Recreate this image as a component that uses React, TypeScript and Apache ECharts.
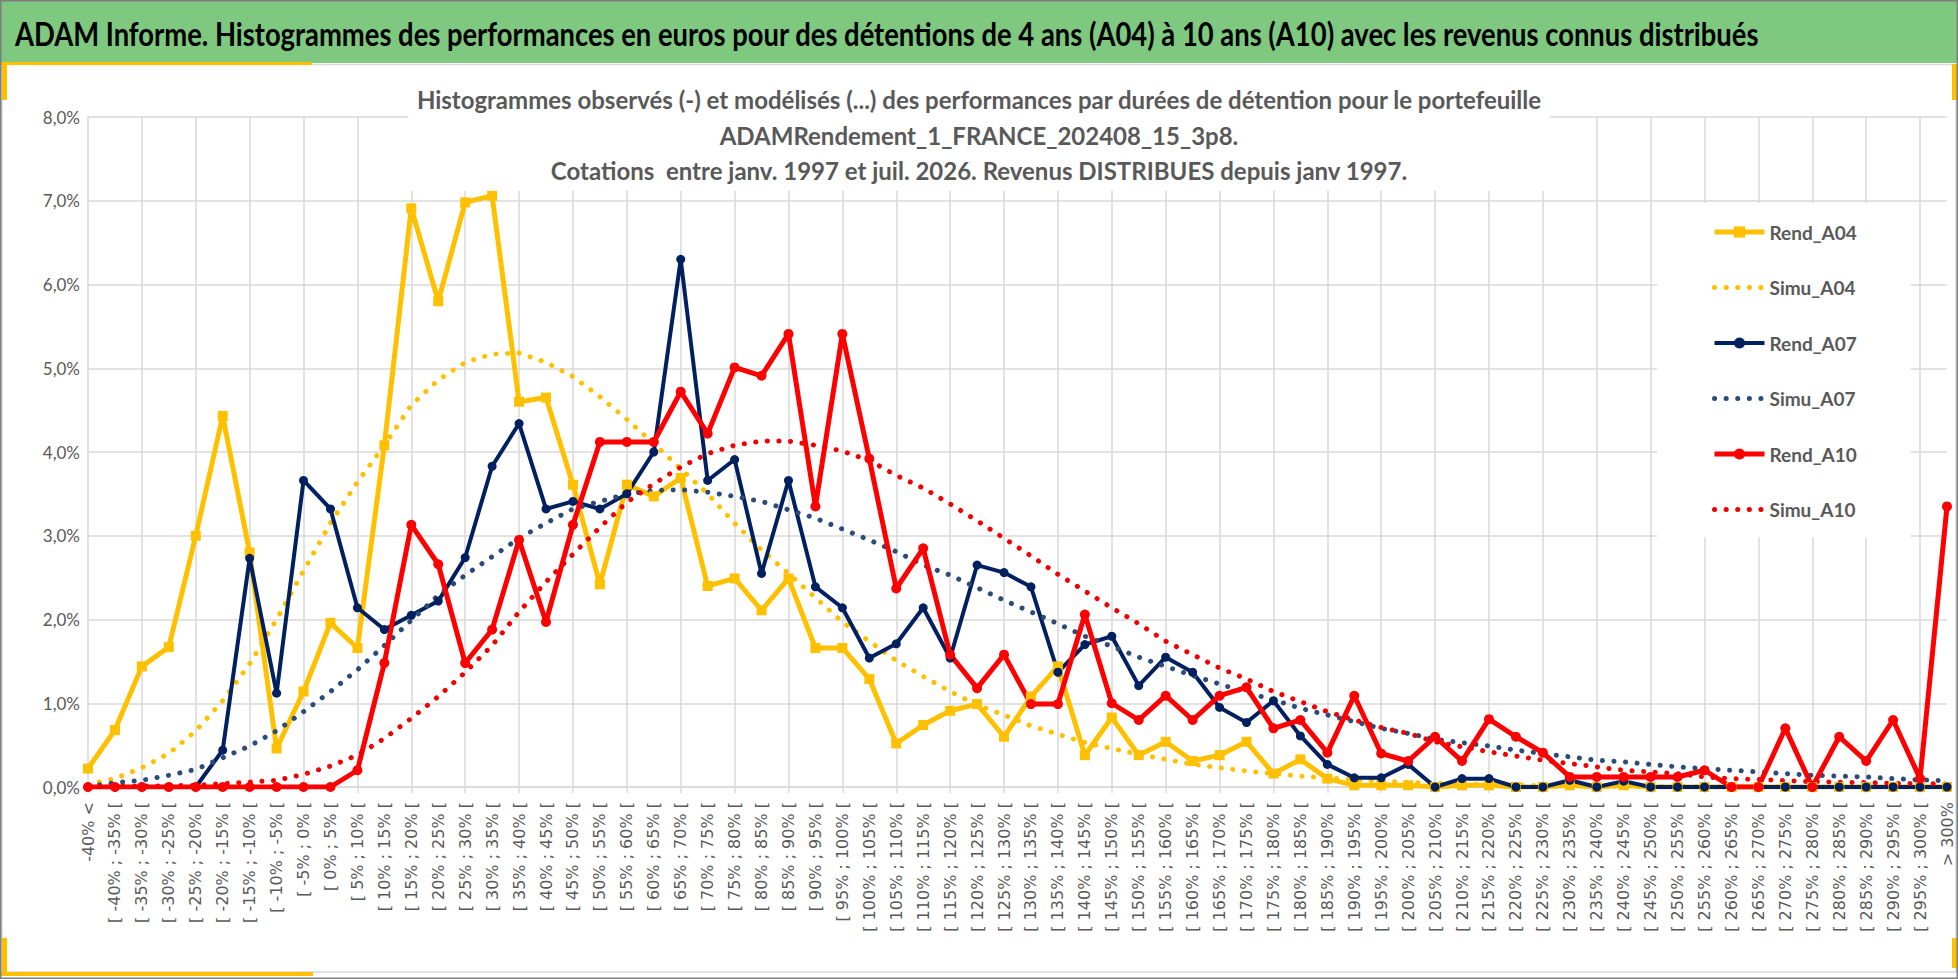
import { useEffect, useRef } from 'react';
import * as echarts from 'echarts';

// Classes de performance (axe des abscisses)
const categories = [
  '-40% <',
  '[ -40% ; -35% [', '[ -35% ; -30% [', '[ -30% ; -25% [', '[ -25% ; -20% [', '[ -20% ; -15% [',
  '[ -15% ; -10% [', '[ -10% ; -5% [', '[ -5% ; 0% [', '[ 0% ; 5% [', '[ 5% ; 10% [',
  '[ 10% ; 15% [', '[ 15% ; 20% [', '[ 20% ; 25% [', '[ 25% ; 30% [', '[ 30% ; 35% [',
  '[ 35% ; 40% [', '[ 40% ; 45% [', '[ 45% ; 50% [', '[ 50% ; 55% [', '[ 55% ; 60% [',
  '[ 60% ; 65% [', '[ 65% ; 70% [', '[ 70% ; 75% [', '[ 75% ; 80% [', '[ 80% ; 85% [',
  '[ 85% ; 90% [', '[ 90% ; 95% [', '[ 95% ; 100% [', '[ 100% ; 105% [', '[ 105% ; 110% [',
  '[ 110% ; 115% [', '[ 115% ; 120% [', '[ 120% ; 125% [', '[ 125% ; 130% [', '[ 130% ; 135% [',
  '[ 135% ; 140% [', '[ 140% ; 145% [', '[ 145% ; 150% [', '[ 150% ; 155% [', '[ 155% ; 160% [',
  '[ 160% ; 165% [', '[ 165% ; 170% [', '[ 170% ; 175% [', '[ 175% ; 180% [', '[ 180% ; 185% [',
  '[ 185% ; 190% [', '[ 190% ; 195% [', '[ 195% ; 200% [', '[ 200% ; 205% [', '[ 205% ; 210% [',
  '[ 210% ; 215% [', '[ 215% ; 220% [', '[ 220% ; 225% [', '[ 225% ; 230% [', '[ 230% ; 235% [',
  '[ 235% ; 240% [', '[ 240% ; 245% [', '[ 245% ; 250% [', '[ 250% ; 255% [', '[ 255% ; 260% [',
  '[ 260% ; 265% [', '[ 265% ; 270% [', '[ 270% ; 275% [', '[ 275% ; 280% [', '[ 280% ; 285% [',
  '[ 285% ; 290% [', '[ 290% ; 295% [', '[ 295% ; 300% [',
  '> 300%',
];

// Histogrammes observés (en %)
const rendA04 = [
  0.22, 0.68, 1.44, 1.67, 3.0, 4.43, 2.8, 0.46, 1.14, 1.96,
  1.66, 4.08, 6.91, 5.8, 6.98, 7.06, 4.6, 4.65, 3.61, 2.42,
  3.61, 3.47, 3.69, 2.4, 2.49, 2.11, 2.49, 1.66, 1.66, 1.29,
  0.52, 0.74, 0.91, 0.99, 0.6, 1.08, 1.44, 0.38, 0.83, 0.38,
  0.54, 0.31, 0.38, 0.54, 0.16, 0.33, 0.1, 0.02, 0.02, 0.02,
  0, 0.02, 0.02, 0, 0, 0.02, 0, 0.02, 0, 0,
  0, 0, 0, 0, 0, 0, 0, 0, 0, 0,
];
const rendA07 = [
  0, 0, 0, 0, 0, 0.44, 2.73, 1.12, 3.66, 3.32,
  2.14, 1.88, 2.05, 2.22, 2.74, 3.83, 4.34, 3.32, 3.41, 3.32,
  3.5, 4.0, 6.3, 3.66, 3.91, 2.55, 3.66, 2.39, 2.14, 1.54,
  1.71, 2.14, 1.54, 2.65, 2.56, 2.39, 1.37, 1.7, 1.8, 1.21,
  1.55, 1.37, 0.95, 0.77, 1.03, 0.61, 0.27, 0.11, 0.11, 0.27,
  0, 0.1, 0.1, 0, 0, 0.08, 0, 0.07, 0, 0,
  0, 0, 0, 0, 0, 0, 0, 0, 0, 0,
];
const rendA10 = [
  0, 0, 0, 0, 0, 0, 0, 0, 0, 0,
  0.2, 1.48, 3.13, 2.66, 1.48, 1.88, 2.95, 1.97, 3.13, 4.12,
  4.12, 4.12, 4.72, 4.22, 5.01, 4.91, 5.41, 3.35, 5.41, 3.92,
  2.37, 2.85, 1.58, 1.18, 1.58, 0.99, 0.99, 2.06, 1.0, 0.8,
  1.09, 0.8, 1.09, 1.19, 0.7, 0.8, 0.41, 1.09, 0.4, 0.31,
  0.6, 0.31, 0.81, 0.6, 0.41, 0.12, 0.12, 0.12, 0.12, 0.12,
  0.2, 0, 0, 0.7, 0, 0.6, 0.31, 0.8, 0.1, 3.35,
];

// Histogrammes modélisés (en %)
const simuA04 = [
  0.03, 0.1, 0.23, 0.4, 0.67, 1.03, 1.47, 2.0, 2.58, 3.15,
  3.64, 4.08, 4.56, 4.86, 5.07, 5.17, 5.18, 5.07, 4.9, 4.66,
  4.39, 4.1, 3.8, 3.5, 3.15, 2.83, 2.55, 2.26, 1.97, 1.74,
  1.51, 1.32, 1.14, 0.98, 0.86, 0.73, 0.63, 0.53, 0.46, 0.39,
  0.33, 0.27, 0.23, 0.19, 0.16, 0.13, 0.11, 0.09, 0.07, 0.055,
  0.045, 0.035, 0.028, 0.022, 0.017, 0.013, 0.01, 0.008, 0.006, 0.005,
  0.004, 0.003, 0.002, 0.002, 0.001, 0.001, 0.001, 0.001, 0.001, 0,
];
const simuA07 = [
  0.01, 0.05, 0.08, 0.14, 0.21, 0.35, 0.49, 0.67, 0.9, 1.14,
  1.4, 1.69, 1.99, 2.29, 2.53, 2.75, 2.97, 3.15, 3.32, 3.41,
  3.5, 3.54, 3.55, 3.52, 3.47, 3.41, 3.31, 3.21, 3.08, 2.95,
  2.81, 2.65, 2.53, 2.38, 2.23, 2.09, 1.95, 1.8, 1.68, 1.55,
  1.44, 1.33, 1.23, 1.13, 1.04, 0.94, 0.86, 0.78, 0.7, 0.64,
  0.57, 0.53, 0.49, 0.44, 0.4, 0.36, 0.32, 0.3, 0.27, 0.24,
  0.22, 0.2, 0.18, 0.16, 0.14, 0.13, 0.12, 0.1, 0.085, 0.075,
];
const simuA10 = [
  0.005, 0.01, 0.01, 0.015, 0.02, 0.04, 0.06, 0.08, 0.15, 0.25,
  0.38, 0.58, 0.82, 1.08, 1.37, 1.69, 2.09, 2.45, 2.78, 3.1,
  3.4, 3.62, 3.82, 3.98, 4.08, 4.13, 4.13, 4.08, 4.01, 3.9,
  3.72, 3.57, 3.38, 3.18, 2.97, 2.76, 2.54, 2.34, 2.14, 1.95,
  1.74, 1.58, 1.42, 1.29, 1.14, 1.02, 0.9, 0.8, 0.71, 0.64,
  0.54, 0.48, 0.42, 0.37, 0.32, 0.28, 0.24, 0.2, 0.18, 0.16,
  0.12, 0.1, 0.09, 0.076, 0.064, 0.056, 0.052, 0.044, 0.04, 0.036,
];

const headerText =
  'ADAM Informe. Histogrammes des performances en euros pour des détentions de 4 ans (A04) à 10 ans (A10) avec les revenus connus distribués';
const titleLines = [
  'Histogrammes observés (-) et modélisés (...) des performances par durées de détention pour le portefeuille',
  'ADAMRendement_1_FRANCE_202408_15_3p8.',
  'Cotations  entre janv. 1997 et juil. 2026. Revenus DISTRIBUES depuis janv 1997.',
];

const FONT = "Lato, 'Open Sans', sans-serif";
const GRAY = '#595959';
const GRID = '#d9d9d9';
const GOLD = '#ffc000';

export default function App() {
  const chartRef = useRef<HTMLDivElement>(null);

  useEffect(() => {
    if (!chartRef.current) return;
    const chart = echarts.init(chartRef.current, null, { renderer: 'svg' });

    const rend = (name: string, data: number[], color: string, symbol: string, width: number, size: number) => ({
      name,
      type: 'line',
      data,
      symbol,
      symbolSize: size,
      showAllSymbol: true,
      lineStyle: { color, width },
      itemStyle: { color },
    });
    const simu = (name: string, data: number[], color: string) => ({
      name,
      type: 'line',
      data,
      symbol: 'none',
      lineStyle: { color, width: 5, type: [0.1, 11.5], cap: 'round' },
      itemStyle: { color },
    });

    const evenOnly = (index: number) => index % 2 === 0;
    // pas de marqueur dans la légende pour les courbes modélisées
    const noMarker = { opacity: 0 };

    const option: any = {
      animation: false,
      backgroundColor: '#fff',
      title: {
        text: titleLines.join('\n'),
        left: 'center',
        top: 82,
        padding: [0, 8, 2, 8],
        backgroundColor: '#fff',
        textStyle: {
          fontFamily: FONT,
          fontSize: 24,
          fontWeight: 'bold',
          color: GRAY,
          lineHeight: 35.5,
        },
      },
      legend: {
        orient: 'vertical',
        left: 1657,
        top: 203,
        padding: [19, 54, 18, 55],
        backgroundColor: '#fff',
        itemWidth: 50,
        itemHeight: 14,
        itemGap: 35.5,
        selectedMode: false,
        lineStyle: { width: 'inherit' },
        textStyle: { fontFamily: FONT, fontSize: 19, fontWeight: 'bold', color: GRAY, lineHeight: 20 },
        data: [
          { name: 'Rend_A04' },
          { name: 'Simu_A04', itemStyle: noMarker },
          { name: 'Rend_A07' },
          { name: 'Simu_A07', itemStyle: noMarker },
          { name: 'Rend_A10' },
          { name: 'Simu_A10', itemStyle: noMarker },
        ],
      },
      grid: { left: 88, right: 11, top: 117, bottom: 192, containLabel: false },
      xAxis: {
        type: 'category',
        boundaryGap: false,
        data: categories,
        axisLine: { lineStyle: { color: GRID, width: 1.5 } },
        axisTick: { show: true, interval: evenOnly, length: 6, lineStyle: { color: GRID, width: 1.5 } },
        axisLabel: {
          interval: 0,
          rotate: 90,
          margin: 15,
          fontFamily: "'DejaVu Sans', sans-serif",
          fontSize: 16,
          color: GRAY,
        },
        splitLine: { show: true, interval: evenOnly, lineStyle: { color: GRID, width: 1.5 } },
      },
      yAxis: {
        type: 'value',
        min: 0,
        max: 8,
        interval: 1,
        axisLine: { show: false },
        axisTick: { show: false },
        axisLabel: {
          margin: 8,
          fontFamily: FONT,
          fontSize: 17,
          color: GRAY,
          formatter: (v: number) => v.toFixed(1).replace('.', ',') + '%',
        },
        splitLine: { lineStyle: { color: GRID, width: 1.5 } },
      },
      series: [
        rend('Rend_A04', rendA04, GOLD, 'rect', 5, 10),
        simu('Simu_A04', simuA04, GOLD),
        rend('Rend_A07', rendA07, '#002060', 'circle', 4, 9),
        simu('Simu_A07', simuA07, '#2b4b78'),
        rend('Rend_A10', rendA10, '#ff0000', 'circle', 5, 10),
        simu('Simu_A10', simuA10, '#f00000'),
      ],
      graphic: [
        { type: 'rect', shape: { x: 0, y: 0, width: 1958, height: 63 }, style: { fill: '#7ec87f' } },
        {
          type: 'text',
          x: 15,
          y: 33,
          scaleX: 0.83,
          style: { text: headerText, font: `bold 33px ${FONT}`, fill: '#000', verticalAlign: 'middle' },
        },
        {
          type: 'rect',
          shape: { x: 2, y: 64.5, width: 1954, height: 907.5 },
          style: { fill: 'none', stroke: GRID, lineWidth: 1.5 },
        },
        { type: 'rect', shape: { x: 0, y: 62, width: 312, height: 3 }, style: { fill: GOLD } },
        { type: 'rect', shape: { x: 2, y: 64, width: 5, height: 36 }, style: { fill: GOLD } },
        { type: 'rect', shape: { x: 2, y: 938, width: 5, height: 36 }, style: { fill: GOLD } },
        { type: 'rect', shape: { x: 0, y: 972, width: 313, height: 4 }, style: { fill: GOLD } },
        { type: 'rect', shape: { x: 1952, y: 64, width: 5, height: 36 }, style: { fill: GOLD } },
        { type: 'rect', shape: { x: 1952, y: 938, width: 5, height: 30 }, style: { fill: GOLD } },
        {
          type: 'rect',
          shape: { x: 0.75, y: 0.75, width: 1956.5, height: 977.5 },
          style: { fill: 'none', stroke: '#7f7f7f', lineWidth: 1.5 },
        },
      ],
    };

    chart.setOption(option);
    return () => chart.dispose();
  }, []);

  return <div ref={chartRef} style={{ position: 'fixed', left: 0, top: 0, width: 1958, height: 979 }} />;
}
